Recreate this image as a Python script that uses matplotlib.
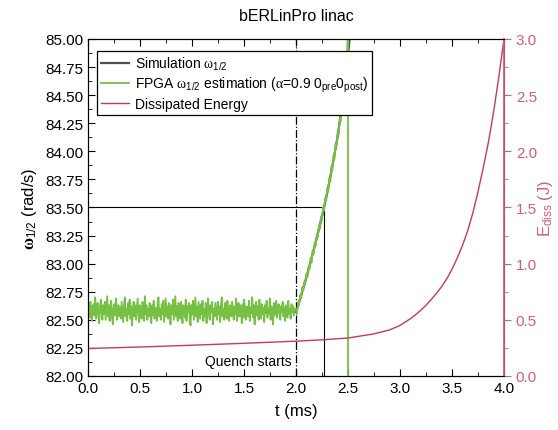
import numpy as np
import matplotlib
matplotlib.use('Agg')
import matplotlib.pyplot as plt
from matplotlib.ticker import MultipleLocator

plt.rcParams['font.family'] = ['Liberation Sans', 'DejaVu Sans']
plt.rcParams['mathtext.fontset'] = 'custom'
plt.rcParams['mathtext.rm'] = 'Liberation Serif'
plt.rcParams['mathtext.it'] = 'Liberation Serif'
plt.rcParams['mathtext.bf'] = 'Liberation Serif:bold'
plt.rcParams['mathtext.sf'] = 'Liberation Sans'

# Simulation omega_1/2 (rad/s)
sim_t = [0.0, 2.0, 2.05, 2.1, 2.15, 2.2, 2.25, 2.3, 2.35, 2.4, 2.45, 2.5, 2.52]
sim_w = [82.57, 82.57, 82.72, 82.88, 83.05, 83.23, 83.42, 83.63, 83.87, 84.13, 84.45, 84.85, 85.05]

# FPGA estimate before the quench (0 .. 2 ms, evenly sampled)
fpga_flat = [
    82.58, 82.63, 82.52, 82.66, 82.55, 82.49, 82.61, 82.64, 82.54, 82.70, 82.51, 82.60, 82.65, 82.53, 82.47, 82.62, 82.68, 82.56, 82.50, 82.63,
    82.55, 82.66, 82.50, 82.60, 82.71, 82.53, 82.63, 82.49, 82.59, 82.67, 82.52, 82.46, 82.61, 82.64, 82.54, 82.69, 82.50, 82.58, 82.63, 82.53,
    82.61, 82.51, 82.66, 82.57, 82.48, 82.63, 82.70, 82.53, 82.60, 82.49, 82.65, 82.55, 82.68, 82.51, 82.62, 82.45, 82.58, 82.66, 82.53, 82.63,
    82.50, 82.59, 82.69, 82.55, 82.48, 82.63, 82.58, 82.51, 82.66, 82.61, 82.49, 82.71, 82.55, 82.63, 82.50, 82.60, 82.53, 82.65, 82.57, 82.47,
    82.63, 82.54, 82.67, 82.51, 82.61, 82.58, 82.49, 82.65, 82.70, 82.53, 82.60, 82.50, 82.64, 82.55, 82.67, 82.48, 82.59, 82.69, 82.53, 82.62,
    82.51, 82.65, 82.57, 82.46, 82.63, 82.55, 82.68, 82.50, 82.60, 82.71, 82.53, 82.62, 82.49, 82.65, 82.57, 82.51, 82.66, 82.55, 82.47, 82.63,
    82.59, 82.52, 82.68, 82.49, 82.62, 82.57, 82.65, 82.51, 82.45, 82.63, 82.55, 82.67, 82.50, 82.60, 82.70, 82.53, 82.62, 82.48, 82.66, 82.58,
    82.51, 82.64, 82.55, 82.67, 82.49, 82.60, 82.53, 82.65, 82.47, 82.61, 82.69, 82.55, 82.50, 82.63, 82.57, 82.66, 82.46, 82.60, 82.53, 82.65,
    82.57, 82.50, 82.66, 82.55, 82.62, 82.48, 82.63, 82.70, 82.53, 82.60, 82.50, 82.65, 82.57, 82.51, 82.67, 82.55, 82.49, 82.63, 82.60, 82.53,
    82.66, 82.57, 82.50, 82.62, 82.55, 82.69, 82.49, 82.60, 82.65, 82.53, 82.63, 82.57, 82.47, 82.64, 82.52, 82.68, 82.56, 82.50, 82.62, 82.58,
    82.53, 82.67, 82.49, 82.61, 82.56, 82.70, 82.52, 82.63, 82.46, 82.60, 82.66, 82.54, 82.62, 82.50, 82.68, 82.57, 82.51, 82.64, 82.55, 82.61,
    82.48, 82.63, 82.58, 82.67, 82.52, 82.60, 82.55, 82.69, 82.50, 82.62, 82.57, 82.46, 82.65, 82.54, 82.61, 82.67, 82.52, 82.59, 82.64, 82.56,
    82.50, 82.62, 82.57, 82.66, 82.53, 82.61, 82.49, 82.63, 82.58, 82.52, 82.67, 82.55, 82.60, 82.51, 82.64, 82.57, 82.62, 82.54, 82.60, 82.59,
]
flat_t = np.linspace(0.0, 1.995, len(fpga_flat))

# FPGA estimate after the quench, incl. the reset at 2.5 ms
rise_t = [2.00, 2.01, 2.02, 2.03, 2.04, 2.05, 2.06, 2.07, 2.08, 2.09, 2.10, 2.11, 2.12, 2.13, 2.14, 2.15, 2.16,
          2.17, 2.18, 2.19, 2.20, 2.21, 2.22, 2.23, 2.24, 2.25, 2.26, 2.27, 2.28, 2.29, 2.30, 2.31, 2.32, 2.33,
          2.34, 2.35, 2.36, 2.37, 2.38, 2.39, 2.40, 2.41, 2.42, 2.43, 2.44, 2.45, 2.46, 2.47, 2.48, 2.49, 2.50, 2.50]
rise_w = [82.60, 82.55, 82.66, 82.63, 82.72, 82.69, 82.79, 82.76, 82.84, 82.82, 82.91, 82.88, 82.97, 82.95, 83.05,
          83.01, 83.12, 83.09, 83.19, 83.16, 83.26, 83.24, 83.34, 83.31, 83.42, 83.39, 83.50, 83.47, 83.58, 83.56,
          83.67, 83.64, 83.76, 83.73, 83.86, 83.83, 83.96, 83.93, 84.06, 84.04, 84.17, 84.15, 84.29, 84.27, 84.42,
          84.40, 84.56, 84.55, 84.72, 84.76, 85.30, 81.00]

# Dissipated energy (J)
e_t = [0.0, 0.5, 1.0, 1.5, 2.0, 2.25, 2.5, 2.75, 2.9, 3.0, 3.1, 3.15, 3.2, 3.25, 3.3, 3.35, 3.4, 3.45, 3.5,
       3.55, 3.6, 3.65, 3.7, 3.75, 3.8, 3.85, 3.9, 3.95, 4.0]
e_diss = [0.245, 0.258, 0.274, 0.291, 0.31, 0.322, 0.338, 0.375, 0.41, 0.45, 0.51, 0.545, 0.585, 0.63, 0.68,
          0.735, 0.795, 0.865, 0.95, 1.05, 1.16, 1.29, 1.45, 1.64, 1.85, 2.08, 2.35, 2.66, 3.0]

quench_t = 2.0
mark_t, mark_w = 2.27, 83.5

red = '#c23b5a'
red_axis = '#cf6078'
green = '#76c043'

fig = plt.figure(figsize=(5.58, 4.31), dpi=100)
ax = fig.add_axes([0.1577, 0.1253, 0.7455, 0.7819])
ax2 = ax.twinx()

ax.plot(sim_t, sim_w, color='#505050', lw=1.6, label=r'Simulation $\omega_{\mathsf{1/2}}$', zorder=2)
ax.plot(np.concatenate([flat_t, rise_t]), fpga_flat + rise_w, color=green, lw=1.3,
        label=r'FPGA $\omega_{\mathsf{1/2}}$ estimation ($\alpha$=0.9 0$_{\mathsf{pre}}$0$_{\mathsf{post}}$)', zorder=3)
ax2.plot(e_t, e_diss, color=red, lw=1.0)
ax.plot([], [], color=red, lw=1.0, label='Dissipated Energy')

ax.axvline(quench_t, color='black', lw=0.9, ls='-.')
ax.plot([0, mark_t, mark_t], [mark_w, mark_w, 82.0], color='black', lw=0.8)
ax.text(quench_t - 0.04, 82.13, 'Quench starts', ha='right', va='center', fontsize=10)

ax.set_xlim(0, 4.0)
ax.set_ylim(82.0, 85.0)
ax2.set_ylim(0, 3.0)

ax.xaxis.set_major_locator(MultipleLocator(0.5))
ax.xaxis.set_minor_locator(MultipleLocator(0.25))
ax.yaxis.set_major_locator(MultipleLocator(0.25))
ax.yaxis.set_minor_locator(MultipleLocator(0.125))
ax.xaxis.set_major_formatter(plt.FormatStrFormatter('%.1f'))
ax.yaxis.set_major_formatter(plt.FormatStrFormatter('%.2f'))
ax.tick_params(which='both', direction='in', top=True, labelsize=11)
ax.tick_params(which='major', length=5)
ax.tick_params(which='minor', length=3)

ax2.yaxis.set_major_locator(MultipleLocator(0.5))
ax2.yaxis.set_minor_locator(MultipleLocator(0.25))
ax2.tick_params(which='both', direction='out', colors=red_axis, labelsize=11)
ax2.tick_params(which='major', length=5)
ax2.tick_params(which='minor', length=3)
ax2.spines['right'].set_color(red_axis)
ax2.spines['right'].set_linewidth(1.3)

ax.set_xlabel('t (ms)', fontsize=12, labelpad=6)
ax.set_ylabel(r'$\mathbf{\omega}_{\mathsf{1/2}}$ (rad/s)', fontsize=12)
ax2.set_ylabel(r'E$_{\mathsf{diss}}$ (J)', fontsize=12, color=red_axis, labelpad=-1)
ax.set_title('bERLinPro linac', fontsize=11.5, pad=14)

leg = ax.legend(loc='upper left', bbox_to_anchor=(0.022, 0.964), borderaxespad=0, fontsize=10,
                fancybox=False, edgecolor='black', framealpha=1, handlelength=2.0,
                borderpad=0.3, labelspacing=0.2, handletextpad=0.4)
leg.set_zorder(5)
leg.get_frame().set_linewidth(0.9)

fig.savefig('out.png', dpi=100)
